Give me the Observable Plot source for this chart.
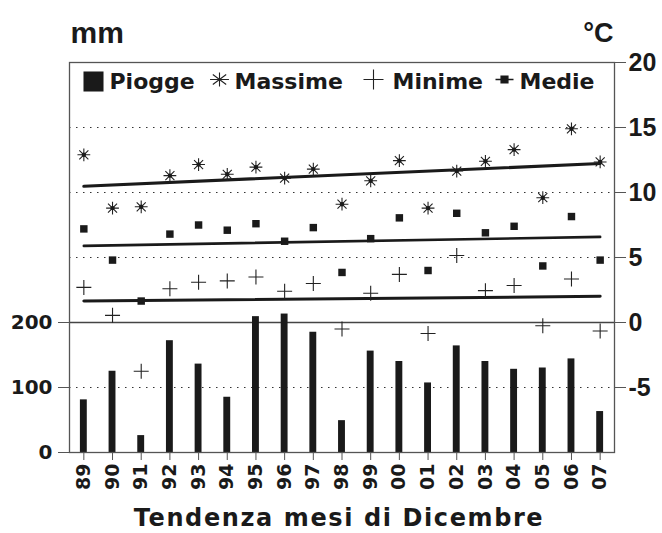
<!DOCTYPE html>
<html>
<head>
<meta charset="utf-8">
<script src="https://cdn.jsdelivr.net/npm/d3@7"></script>
<script src="https://cdn.jsdelivr.net/npm/@observablehq/plot@0.6"></script>
<style>
  html, body { margin: 0; padding: 0; background: #fff; }
  #chart { width: 662px; height: 533px; }
</style>
</head>
<body>
<div id="chart"></div>
<script>
// ---- data ----
const years = [1989,1990,1991,1992,1993,1994,1995,1996,1997,1998,1999,2000,2001,2002,2003,2004,2005,2006,2007];
const yearLabels = ["89","90","91","92","93","94","95","96","97","98","99","00","01","02","03","04","05","06","07"];
const rain  = [81,125,26,172,136,85,209,213,185,49,156,140,107,164,140,128,130,144,63];      // mm (Piogge)
const tmax  = [12.9,8.8,8.9,11.3,12.15,11.4,11.95,11.1,11.8,9.1,10.9,12.45,8.8,11.65,12.4,13.3,9.6,14.9,12.35]; // °C (Massime)
const tmin  = [2.7,0.55,-3.75,2.6,3.1,3.2,3.5,2.4,3.0,-0.5,2.25,3.7,-0.85,5.15,2.45,2.85,-0.25,3.35,-0.65];     // °C (Minime)
const tmean = [7.2,4.8,1.65,6.8,7.5,7.1,7.6,6.25,7.3,3.85,6.45,8.05,4.0,8.4,6.9,7.4,4.35,8.15,4.8];             // °C (Medie)
const mmTicks = [0,100,200];
const cTicks = [-5,0,5,10,15,20];
const gridC = [-5,5,10,15];

// rain (mm) shares the °C axis: 0 mm at -10 °C, 100 mm per 5 °C
const mmToC = (mm) => mm / 20 - 10;
const cToMm = (c) => (c + 10) * 20;

const data = years.map((year, i) => ({
  year, label: yearLabels[i], rain: rain[i], rainC: mmToC(rain[i]),
  tmax: tmax[i], tmin: tmin[i], tmean: tmean[i]
}));

// custom stroked symbols
const asterisk8 = (sx = 1) => ({
  draw(ctx, size) {
    const r = Math.sqrt(size / Math.PI), d = r * Math.SQRT1_2;
    ctx.moveTo(0, -r); ctx.lineTo(0, r);
    ctx.moveTo(-r * sx, 0); ctx.lineTo(r * sx, 0);
    ctx.moveTo(-d * sx, -d); ctx.lineTo(d * sx, d);
    ctx.moveTo(-d * sx, d); ctx.lineTo(d * sx, -d);
  }
});
const plusLine = {
  draw(ctx, size) {
    const r = Math.sqrt(size / Math.PI);
    ctx.moveTo(0, -r); ctx.lineTo(0, r);
    ctx.moveTo(-r, 0); ctx.lineTo(r, 0);
  }
};
const lineSquare = {
  draw(ctx, size) {
    const r = Math.sqrt(size / Math.PI);
    ctx.moveTo(-r, 0); ctx.lineTo(r, 0);
    const s = r * 0.38;
    ctx.moveTo(-s, -s); ctx.lineTo(s, -s); ctx.lineTo(s, s); ctx.lineTo(-s, s); ctx.closePath();
  }
};

const boldSans = "'DejaVu Sans', Verdana, sans-serif";
const arialB = "'Liberation Sans', Arial, Helvetica, sans-serif";
const ink = "#1a1a1a";
const axisGray = "#555";

const legendFont = {fontFamily: boldSans, fontWeight: "bold", fontSize: 22, fill: ink, textAnchor: "start", frameAnchor: "top-left"};

const chart = Plot.plot({
  width: 662,
  height: 533,
  marginTop: 62,
  marginRight: 48,
  marginBottom: 81,
  marginLeft: 69,
  style: {background: "white", overflow: "visible"},
  x: {type: "linear", domain: [1988.5, 2007.5]},
  y: {domain: [-10, 20]},
  marks: [
    // dotted grid + solid zero line
    Plot.ruleY(gridC, {stroke: "#333", strokeWidth: 1.2, strokeDasharray: "1.5,5.5"}),
    Plot.ruleY([0], {stroke: "#444", strokeWidth: 1.3}),
    // rain bars
    Plot.rectY(data, {x1: d => d.year - 0.12, x2: d => d.year + 0.12, y1: -10, y2: "rainC", fill: ink}),
    // trend lines
    Plot.linearRegressionY(data, {x: "year", y: "tmax", ci: 0, stroke: ink, strokeWidth: 3.2}),
    Plot.linearRegressionY(data, {x: "year", y: "tmean", ci: 0, stroke: ink, strokeWidth: 2.6}),
    Plot.linearRegressionY(data, {x: "year", y: "tmin", ci: 0, stroke: ink, strokeWidth: 3}),
    // points
    Plot.dot(data, {x: "year", y: "tmax", r: 6.4, symbol: asterisk8(1), fill: "none", stroke: "#222", strokeWidth: 1.1}),
    Plot.dot(data, {x: "year", y: "tmax", r: 2.2, fill: ink, stroke: "none"}),
    Plot.dot(data, {x: "year", y: "tmin", r: 7.5, symbol: plusLine, fill: "none", stroke: "#222", strokeWidth: 1.1}),
    Plot.dot(data, {x: "year", y: "tmean", r: 4.2, symbol: "square", fill: ink, stroke: "none"}),
    // frame
    Plot.frame({stroke: axisGray, strokeWidth: 1.3}),
    // axes
    Plot.axisY(mmTicks.map(mmToC), {
      anchor: "left", label: null, tickSize: 11, tickPadding: 6,
      tickFormat: c => String(Math.round(cToMm(c))),
      stroke: axisGray, fill: ink,
      fontFamily: boldSans, fontWeight: "bold", fontSize: 20
    }),
    Plot.axisY(cTicks, {
      anchor: "right", label: null, tickSize: 11, tickPadding: 3,
      tickFormat: c => String(c),
      stroke: axisGray, fill: ink,
      fontFamily: arialB, fontWeight: "bold", fontSize: 25
    }),
    Plot.axisX(years, {
      anchor: "bottom", label: null, tickSize: 8, tickPadding: 3, tickRotate: -90,
      tickFormat: y => yearLabels[years.indexOf(y)],
      stroke: axisGray, fill: ink,
      fontFamily: boldSans, fontWeight: "bold", fontSize: 19
    }),
    // unit labels
    Plot.text(["mm"], {frameAnchor: "top-left", dx: 1, dy: -41, textAnchor: "start",
      fontFamily: arialB, fontWeight: "bold", fontSize: 30, fill: ink}),
    Plot.text(["°C"], {frameAnchor: "top-right", dx: -1, dy: -40, textAnchor: "end",
      fontFamily: arialB, fontWeight: "bold", fontSize: 27, fill: ink}),
    // x title
    Plot.text(["Tendenza mesi di Dicembre"], {frameAnchor: "bottom", dx: -3, dy: 73,
      fontFamily: boldSans, fontWeight: "bold", fontSize: 24, fill: ink}),
    // legend
    Plot.dot([0], {frameAnchor: "top-left", dx: 24, dy: 19, symbol: "square", r: 11.3, fill: ink}),
    Plot.text(["Piogge"], {...legendFont, dx: 40, dy: 11}),
    Plot.dot([0], {frameAnchor: "top-left", dx: 150, dy: 17, r: 7, symbol: asterisk8(1.35), fill: "none", stroke: "#222", strokeWidth: 1.1}),
    Plot.text(["Massime"], {...legendFont, dx: 165, dy: 11}),
    Plot.dot([0], {frameAnchor: "top-left", dx: 304, dy: 17, r: 10, symbol: plusLine, fill: "none", stroke: "#222", strokeWidth: 1.1}),
    Plot.text(["Minime"], {...legendFont, dx: 323, dy: 11}),
    Plot.dot([0], {frameAnchor: "top-left", dx: 435, dy: 17, r: 9, symbol: lineSquare, fill: ink, stroke: ink, strokeWidth: 1.3}),
    Plot.text(["Medie"], {...legendFont, dx: 450, dy: 11})
  ]
});

document.getElementById("chart").appendChild(chart);
// widen the x title like the reference
d3.select(chart).selectAll("text").filter(function () { return this.textContent === "Tendenza mesi di Dicembre"; })
  .style("letter-spacing", "1.6px");
</script>
</body>
</html>
